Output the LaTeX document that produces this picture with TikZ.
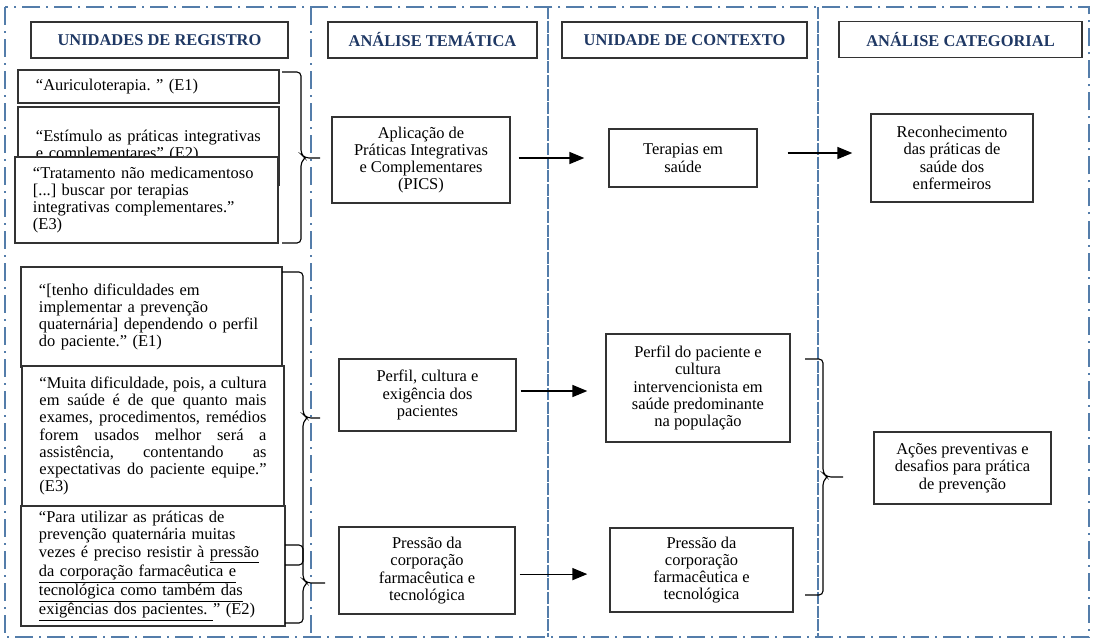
\documentclass[tikz,border=0pt]{standalone}
\usepackage{fontspec}
\setmainfont{Liberation Serif}
\usetikzlibrary{arrows.meta}
\definecolor{azulmoldura}{RGB}{84,125,170}
\definecolor{azultitulo}{RGB}{31,56,100}
\frenchspacing

\tikzset{
  moldura/.style={draw=azulmoldura, line width=1.3pt, dash pattern=on 0.45cm off 0.15cm on 0.05cm off 0.15cm},
  divisoria/.style={draw=azulmoldura, line width=0.9pt, dash pattern=on 0.3cm off 0.04cm},
  titulo/.style={draw=black!80, line width=1pt, minimum height=0.9cm, text=azultitulo, font=\bfseries\fontsize{11.7}{12.3}\selectfont},
  citacao/.style={draw=black!80, line width=1pt, fill=white, align=left, inner xsep=0.45cm, font=\fontsize{11.7}{12.3}\selectfont},
  caixa/.style={draw=black!80, line width=1pt, fill=white, align=center, font=\fontsize{11.7}{12.3}\selectfont},
  seta/.style={-{Triangle[length=0.37cm,width=0.3cm]}, line width=0.8pt},
  chave/.style={line width=0.8pt, rounded corners=0.1cm},
}

\begin{document}
\begin{tikzpicture}[x=0.025cm,y=-0.025cm]
	\useasboundingbox (0,0) rectangle (1094,641);
	% moldura das colunas
	\draw[moldura] (5,7) rectangle (1089,637);
	\draw[moldura] (311,7) -- (311,637);
	\draw[divisoria] (548,7) -- (548,637);
	\draw[divisoria] (818,7) -- (818,637);

	% titulos
	\node[titulo, minimum width=6.425cm] (H1) at (159.5,40) {UNIDADES DE REGISTRO};
	\node[titulo, minimum width=5.225cm] (H2) at (432.5,40) {ANÁLISE TEMÁTICA};
	\node[titulo, minimum width=6.125cm] (H3) at (684.5,40) {UNIDADE DE CONTEXTO};
	\node[titulo, minimum width=6.075cm] (H4) at (960.5,39.5) {ANÁLISE CATEGORIAL};

	% unidades de registro
	\node[citacao, text width=5.625cm, minimum height=0.825cm] (Q1) at (148.5,86.5) {“Auriculoterapia. ” (E1)};
	\node[citacao, text width=5.625cm, minimum height=1.95cm] (Q2) at (148.5,146) {“Estímulo as práticas integrativas\\ e complementares” (E2)};
	\node[citacao, text width=5.675cm, minimum height=2.15cm] (Q3) at (146.5,200) {“Tratamento não medicamentoso\\ {[...]} buscar por terapias\\ integrativas complementares.”\\ (E3)};
	\node[citacao, text width=5.625cm, minimum height=2.5cm] (Q4) at (151.5,317) {“[tenho dificuldades em\\ implementar a prevenção\\ quaternária] dependendo o perfil\\ do paciente.” (E1)};
	\node[citacao, align=justify, inner xsep=0.4375cm, text width=5.675cm, minimum height=3.5cm] (Q5) at (153,436) {“Muita dificuldade, pois, a cultura\linebreak em saúde é de que quanto mais\linebreak exames, procedimentos, remédios\linebreak forem usados melhor será a\linebreak assistência, contentando as\linebreak expectativas do paciente equipe.”\linebreak (E3)};
	\node[citacao, text width=5.7cm, minimum height=3cm] (Q6) at (153,566) {“Para utilizar as práticas de\\ prevenção quaternária muitas\\ vezes é preciso resistir à \underline{pressão}\\ \underline{da corporação farmacêutica e}\\ \underline{tecnológica como também das}\\ \underline{exigências dos pacientes.\ }” (E2)};

	% chaves
	\coordinate (ch1a) at (282,72);
	\coordinate (ch1b) at (282,243);
	\coordinate (ch1p) at (320,158);
	\draw[chave] (ch1a) -| (301,154) -- (305,158) -- (ch1p);
	\draw[chave] (ch1b) -| (301,162) -- (305,158);
	\coordinate (ch2a) at (282,272);
	\coordinate (ch2b) at (285,565);
	\coordinate (ch2p) at (320,418);
	\draw[chave] (ch2a) -| (303,414) -- (307,418) -- (ch2p);
	\draw[chave] (ch2b) -| (303,422) -- (307,418);
	\coordinate (ch3a) at (285,545);
	\coordinate (ch3b) at (285,623);
	\coordinate (ch3p) at (325,583);
	\draw[chave] (ch3a) -| (303,579) -- (307,583) -- (ch3p);
	\draw[chave] (ch3b) -| (303,587) -- (307,583);
	\coordinate (ch4a) at (805,359);
	\coordinate (ch4b) at (805,595);
	\coordinate (ch4p) at (843,477);
	\draw[chave] (ch4a) -| (823,473) -- (827,477) -- (ch4p);
	\draw[chave] (ch4b) -| (823,481) -- (827,477);

	% analise tematica
	\node[caixa, minimum width=4.45cm, minimum height=2.15cm] (A1) at (421,160) {Aplicação de\\ Práticas Integrativas\\ e Complementares\\ (PICS)};
	\node[caixa, minimum width=4.425cm, minimum height=1.8cm] (A2) at (427.5,395) {Perfil, cultura e\\ exigência dos\\ pacientes};
	\node[caixa, minimum width=4.4cm, minimum height=2.175cm] (A3) at (427,570.5) {Pressão da\\ corporação\\ farmacêutica e\\ tecnológica};

	% unidade de contexto
	\node[caixa, minimum width=3.7cm, minimum height=1.45cm] (C1) at (683,158) {Terapias em\\ saúde};
	\node[caixa, minimum width=4.6cm, minimum height=2.7cm] (C2) at (698,388) {Perfil do paciente e\\ cultura\\ intervencionista em\\ saúde predominante\\ na população};
	\node[caixa, minimum width=4.575cm, minimum height=2.1cm] (C3) at (701.5,570) {Pressão da\\ corporação\\ farmacêutica e\\ tecnológica};

	% analise categorial
	\node[caixa, minimum width=4.05cm, minimum height=2.2cm] (D1) at (952,158) {Reconhecimento\\ das práticas de\\ saúde dos\\ enfermeiros};
	\node[caixa, minimum width=4.425cm, minimum height=1.8cm] (D2) at (962.5,468) {Ações preventivas e\\ desafios para prática\\ de prevenção};

	% setas
	\draw[seta, shorten <=0.2cm, shorten >=0.6cm] (A1.east |- C1.west) -- (C1.west);
	\draw[seta, shorten <=0.75cm, shorten >=0.45cm] ([yshift=0.125cm]C1.east) -- ([yshift=0.125cm]C1.east -| D1.west);
	\draw[seta, shorten <=0.1cm, shorten >=0.45cm] ([yshift=0.1cm]A2.east) -- ([yshift=0.1cm]A2.east -| C2.west);
	\draw[seta, shorten <=0.1cm, shorten >=0.55cm] ([yshift=-0.09cm]A3.east) -- ([yshift=-0.09cm]A3.east -| C3.west);
\end{tikzpicture}
\end{document}
